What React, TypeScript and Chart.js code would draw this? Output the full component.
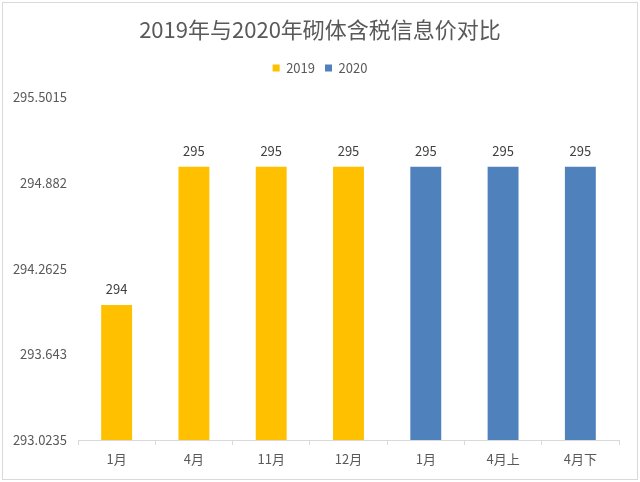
import React, { useEffect, useRef } from "react";
import { Chart, registerables } from "chart.js";

Chart.register(...registerables);

const categories = ["1月", "4月", "11月", "12月", "1月", "4月上", "4月下"];
const series2019 = [294, 295, 295, 295, null, null, null];
const series2020 = [null, null, null, null, 295, 295, 295];
const yTickValues = [293.0235, 293.643, 294.2625, 294.882, 295.5015];
const yTickLabels = ["293.0235", "293.643", "294.2625", "294.882", "295.5015"];
const titleText = "2019年与2020年砌体含税信息价对比";

const FONT = "'Noto Sans CJK SC', 'Noto Sans', sans-serif";
const TEXT = "#595959";

const valueLabels = {
  id: "valueLabels",
  afterDatasetsDraw(chart: any) {
    const ctx = chart.ctx;
    ctx.save();
    ctx.font = `13px ${FONT}`;
    ctx.fillStyle = "#404040";
    ctx.textAlign = "center";
    ctx.textBaseline = "bottom";
    chart.data.datasets.forEach((ds: any, i: number) => {
      const meta = chart.getDatasetMeta(i);
      meta.data.forEach((el: any, j: number) => {
        const v = ds.data[j];
        if (v === null || v === undefined) return;
        ctx.fillText(String(v), el.x, el.y - 9);
      });
    });
    ctx.restore();
  },
};

const frame = {
  id: "frame",
  beforeDraw(chart: any) {
    const ctx = chart.ctx;
    ctx.save();
    ctx.fillStyle = "#ffffff";
    ctx.fillRect(0, 0, chart.width, chart.height);
    ctx.strokeStyle = "#d9d9d9";
    ctx.lineWidth = 1;
    ctx.strokeRect(2.5, 2.5, chart.width - 5, chart.height - 5);
    ctx.restore();
  },
};

export default function App() {
  const ref = useRef<HTMLCanvasElement>(null);
  useEffect(() => {
    document.body.style.margin = "0";
    const chart = new Chart(ref.current!, {
      type: "bar",
      data: {
        labels: categories,
        datasets: [
          {
            label: "2019",
            data: series2019 as any,
            backgroundColor: "#FFC000",
            categoryPercentage: 1,
            barPercentage: 0.4,
          },
          {
            label: "2020",
            data: series2020 as any,
            backgroundColor: "#4F81BD",
            categoryPercentage: 1,
            barPercentage: 0.4,
          },
        ],
      },
      options: {
        animation: false,
        responsive: false,
        layout: { padding: { left: 0, right: 0, top: 0, bottom: 4 } },
        plugins: {
          title: {
            display: true,
            text: titleText,
            color: TEXT,
            font: { family: FONT, size: 22, weight: "normal" },
            padding: { top: 16, bottom: 9 },
          },
          subtitle: {
            display: true,
            text: "",
            position: "top",
            weight: 500,
            padding: 0,
            font: { family: FONT, size: 13, lineHeight: 1 },
          } as any,
          legend: {
            display: true,
            labels: {
              color: TEXT,
              font: { family: FONT, size: 13 },
              boxWidth: 7,
              boxHeight: 7,
              padding: 10,
            },
          },
          tooltip: { enabled: false },
        },
        scales: {
          x: {
            stacked: true,
            grid: {
              display: true,
              drawOnChartArea: false,
              drawTicks: true,
              tickLength: 5,
              color: "#d9d9d9",
              offset: true,
            },
            border: { display: true, color: "#d9d9d9" },
            ticks: { color: TEXT, font: { family: FONT, size: 13 }, padding: 6 },
            afterFit(scale: any) {
              scale.height = 38;
            },
          },
          y: {
            stacked: true,
            min: 293.0235,
            max: 295.5015,
            grid: { display: false, drawTicks: false },
            border: { display: false },
            afterBuildTicks(scale: any) {
              scale.ticks = yTickValues.map((v) => ({ value: v }));
            },
            ticks: {
              color: TEXT,
              font: { family: FONT, size: 13 },
              padding: 11,
              callback: (_v: any, i: number) => yTickLabels[i],
            },
            afterFit(scale: any) {
              scale.width = 78;
            },
          },
          yRightSpacer: {
            type: "linear",
            position: "right",
            display: true,
            grid: { display: false, drawTicks: false },
            border: { display: false },
            ticks: { display: false },
            afterFit(scale: any) {
              scale.width = 21;
            },
          },
        },
      },
      plugins: [frame, valueLabels],
    });
    return () => chart.destroy();
  }, []);
  return <canvas ref={ref} width={640} height={482} style={{ display: "block" }} />;
}
